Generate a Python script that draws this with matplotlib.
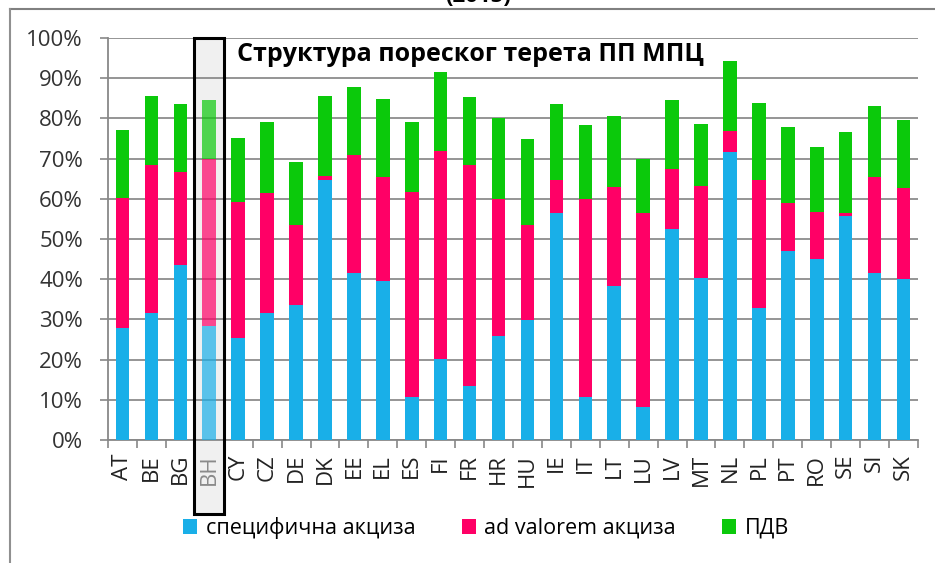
import numpy as np
import matplotlib.pyplot as plt
from matplotlib.patches import Rectangle
from matplotlib.lines import Line2D

plt.rcParams['font.family'] = ['Open Sans', 'DejaVu Sans']

zemlje = ['AT', 'BE', 'BG', 'BH', 'CY', 'CZ', 'DE', 'DK', 'EE', 'EL', 'ES', 'FI', 'FR', 'HR',
          'HU', 'IE', 'IT', 'LT', 'LU', 'LV', 'MT', 'NL', 'PL', 'PT', 'RO', 'SE', 'SI', 'SK']
specificna = [27.8, 31.5, 43.5, 28.4, 25.3, 31.5, 33.6, 64.7, 41.5, 39.6, 10.6, 20.1, 13.5, 25.9,
              29.9, 56.4, 10.8, 38.4, 8.1, 52.4, 40.2, 71.6, 32.9, 47.0, 45.0, 55.7, 41.5, 40.0]
ad_valorem = [32.3, 36.9, 23.2, 41.6, 34.0, 29.9, 19.9, 1.0, 29.4, 25.9, 51.2, 51.9, 54.9, 34.0,
              23.6, 8.4, 49.2, 24.6, 48.3, 14.9, 23.0, 5.3, 31.9, 11.9, 11.8, 0.7, 23.8, 22.6]
pdv = [17.0, 17.2, 16.8, 14.7, 15.9, 17.6, 15.6, 19.9, 17.0, 19.3, 17.2, 19.5, 16.8, 20.3,
       21.3, 18.7, 18.4, 17.7, 13.4, 17.4, 15.4, 17.4, 19.0, 18.9, 16.2, 20.3, 17.9, 17.0]
nazivi = ['специфична акциза', 'ad valorem акциза', 'ПДВ']
boje = ['#19AFE8', '#FF0066', '#0BC90B']
istaknuto = 'BH'

fig = plt.figure(figsize=(9.35, 5.63), dpi=100)
ax = fig.add_axes([108 / 935, 123 / 563, 810 / 935, 402 / 563])

x = np.arange(len(zemlje))
s = np.array(specificna)
a = np.array(ad_valorem)
p = np.array(pdv)
alfa = [0.7 if z == istaknuto else 1.0 for z in zemlje]

for i in range(len(zemlje)):
    ax.bar(x[i], s[i], width=0.47, color=boje[0], alpha=alfa[i], zorder=3,
           label=nazivi[0] if i == 0 else None)
    ax.bar(x[i], a[i], bottom=s[i], width=0.47, color=boje[1], alpha=alfa[i], zorder=3,
           label=nazivi[1] if i == 0 else None)
    ax.bar(x[i], p[i], bottom=s[i] + a[i], width=0.47, color=boje[2], alpha=alfa[i], zorder=3,
           label=nazivi[2] if i == 0 else None)

ax.set_xlim(-0.5, len(zemlje) - 0.5)
ax.set_ylim(0, 100)
ax.set_yticks(np.arange(0, 101, 10))
ax.set_yticklabels([f'{v}%' for v in range(0, 101, 10)], fontsize=16, color='#333333')
ax.set_xticks(x)
ax.set_xticklabels(zemlje, rotation=90, fontsize=16, color='#222222')
ax.set_xticks(np.arange(-0.5, len(zemlje)), minor=True)
ax.tick_params(axis='x', which='major', length=0, pad=10)
ax.tick_params(axis='x', which='minor', length=6, color='#888888', width=1.2)
ax.tick_params(axis='y', length=6, color='#888888', width=1.2, pad=12)
ax.grid(axis='y', color='#8c8c8c', linewidth=1.3, zorder=0)
for k in ['top', 'right']:
    ax.spines[k].set_visible(False)
for k in ['left', 'bottom']:
    ax.spines[k].set_color('#888888')
    ax.spines[k].set_linewidth(1.3)
for lbl in ax.get_xticklabels():
    if lbl.get_text() == istaknuto:
        lbl.set_color('#8a8a8a')

# okvir oko BH
bi = zemlje.index(istaknuto)
ax.add_patch(Rectangle((bi - 0.53, -18.4), 1.05, 118.4, facecolor='#e3e3e3', alpha=0.5,
                       edgecolor='none', clip_on=False, zorder=1))
ax.add_patch(Rectangle((bi - 0.53, -18.4), 1.05, 118.4, facecolor='none',
                       edgecolor='black', linewidth=2.2, clip_on=False, zorder=5))

ax.text(129 / 810, 0.99, 'Структура пореског терета ПП МПЦ',
        transform=ax.transAxes, fontsize=18, fontweight='bold', va='top', zorder=6)

fig.legend(loc='center', bbox_to_anchor=(486 / 935, 1 - 528 / 563), ncol=3, frameon=False,
           fontsize=15.5, handlelength=0.65, handleheight=0.65, handletextpad=0.4,
           columnspacing=2.15)

# okvir slike i odsečen naslov
fig.add_artist(Line2D([10 / 935, 1], [1 - 8.5 / 563] * 2, color='#808080', lw=1.5))
fig.add_artist(Line2D([10 / 935] * 2, [0, 1 - 8.5 / 563], color='#909090', lw=1.5))
fig.text(478 / 935, 1 - 2 / 563, '(2015)', ha='center', va='baseline', fontsize=16,
         fontweight='bold')

fig.savefig('out.png', dpi=100)
